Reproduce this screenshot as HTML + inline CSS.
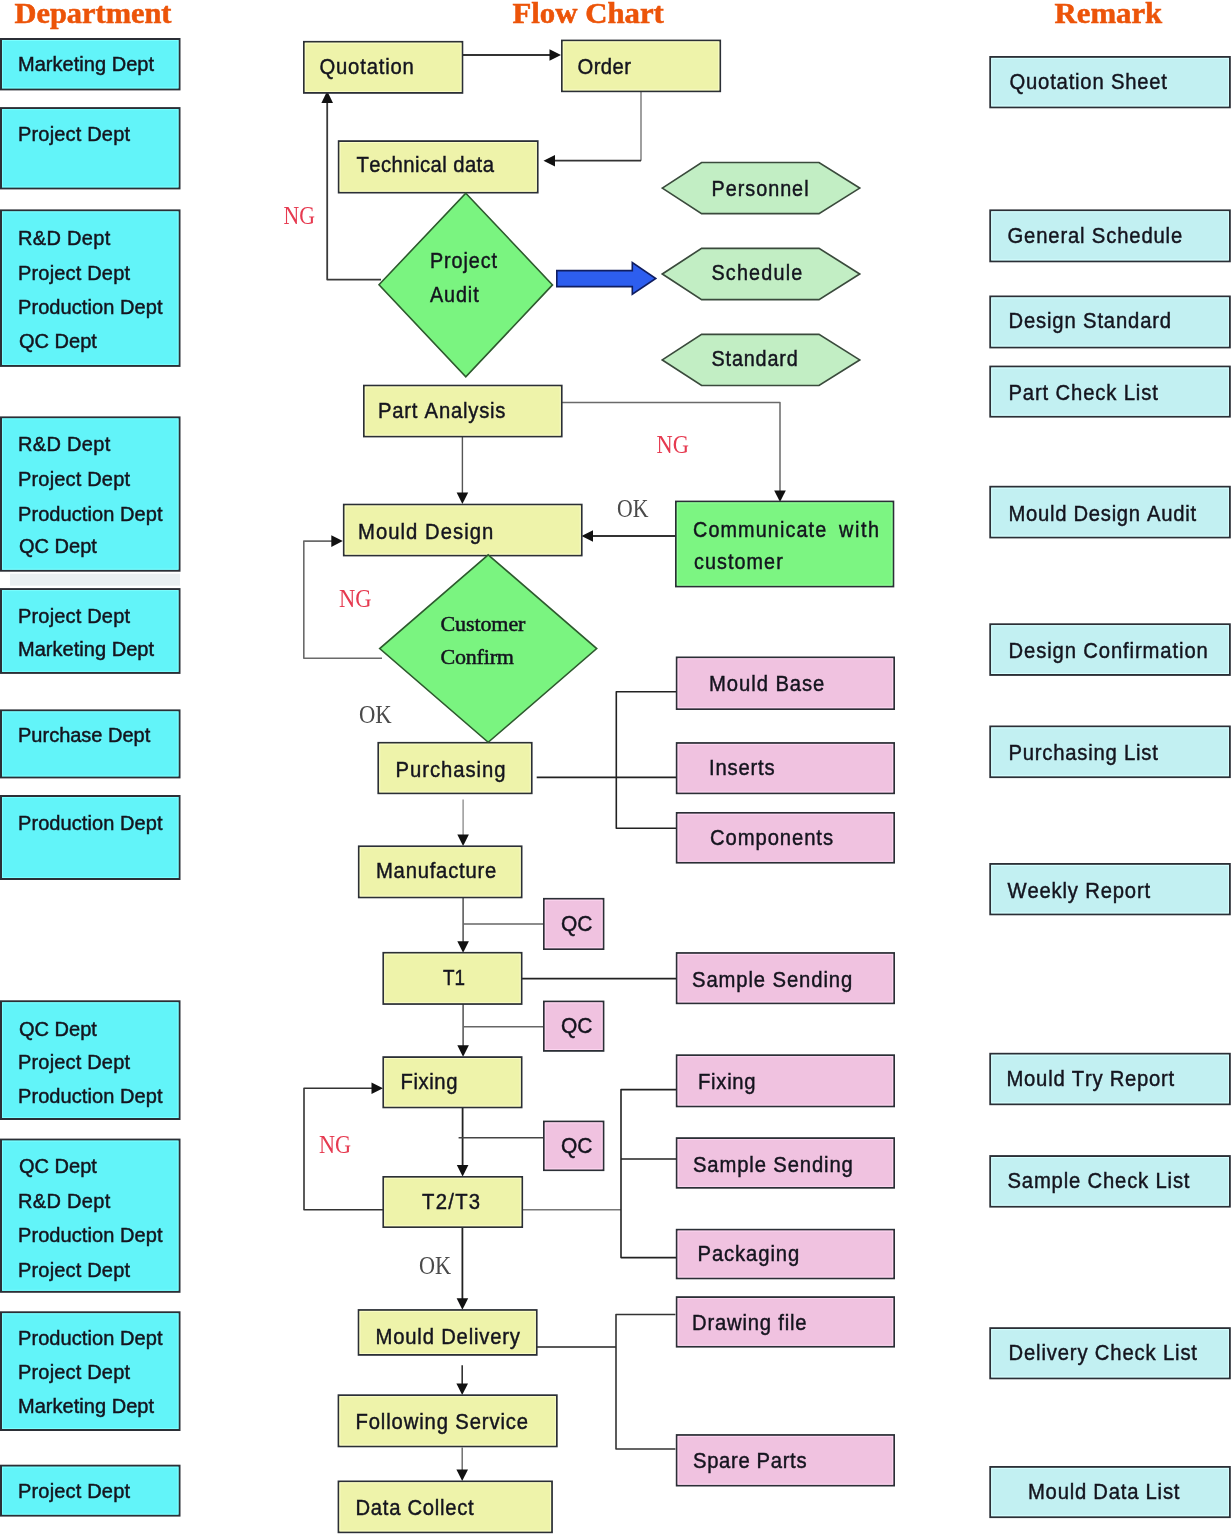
<!DOCTYPE html>
<html><head><meta charset="utf-8"><title>Mould Flow Chart</title>
<style>html,body{margin:0;padding:0;background:#fff;overflow:hidden;width:1232px;height:1534px;}svg{display:block;will-change:transform;}text{font-kerning:none;}</style>
</head><body>
<svg width="1232" height="1534" viewBox="0 0 1232 1534">
<path d="M462.7,55.0 L552.0,55.0" fill="none" stroke="#333333" stroke-width="2" stroke-linejoin="round"/>
<polygon points="561.0,55.0 549.5,49.2 549.5,60.8" fill="#111"/>
<path d="M641.0,91.6 L641.0,160.7" fill="none" stroke="#777" stroke-width="1.4" stroke-linejoin="round"/>
<path d="M641.0,160.7 L552.0,160.7" fill="none" stroke="#333333" stroke-width="1.8" stroke-linejoin="round"/>
<polygon points="543.5,160.7 555.0,154.9 555.0,166.5" fill="#111"/>
<path d="M381.0,279.6 L327.2,279.6 L327.2,100.0" fill="none" stroke="#3a3a3a" stroke-width="1.8" stroke-linejoin="round"/>
<polygon points="327.2,91.0 321.4,103.0 333.0,103.0" fill="#111"/>
<path d="M462.4,436.8 L462.4,495.0" fill="none" stroke="#555" stroke-width="1.4" stroke-linejoin="round"/>
<polygon points="462.4,504.0 456.6,492.5 468.2,492.5" fill="#111"/>
<path d="M562.0,402.5 L780.0,402.5 L780.0,492.0" fill="none" stroke="#6a6a6a" stroke-width="1.5" stroke-linejoin="round"/>
<polygon points="780.0,502.0 774.2,490.5 785.8,490.5" fill="#111"/>
<path d="M675.8,536.0 L590.0,536.0" fill="none" stroke="#333333" stroke-width="1.8" stroke-linejoin="round"/>
<polygon points="581.5,536.0 593.0,530.2 593.0,541.8" fill="#111"/>
<path d="M382.0,658.2 L303.8,658.2 L303.8,541.1 L334.0,541.1" fill="none" stroke="#6a6a6a" stroke-width="1.6" stroke-linejoin="round"/>
<polygon points="342.8,541.1 331.3,535.3 331.3,546.9" fill="#111"/>
<path d="M536.7,777.4 L676.4,777.4" fill="none" stroke="#222" stroke-width="1.6" stroke-linejoin="round"/>
<path d="M676.4,691.8 L616.3,691.8 L616.3,828.3 L676.4,828.3" fill="none" stroke="#222" stroke-width="1.6" stroke-linejoin="round"/>
<path d="M463.1,799.6 L463.1,836.0" fill="none" stroke="#888" stroke-width="1.3" stroke-linejoin="round"/>
<polygon points="463.1,846.0 457.3,834.5 468.9,834.5" fill="#111"/>
<path d="M463.1,897.7 L463.1,943.0" fill="none" stroke="#444" stroke-width="1.4" stroke-linejoin="round"/>
<polygon points="463.1,952.7 457.3,941.2 468.9,941.2" fill="#111"/>
<path d="M463.1,924.0 L543.6,924.0" fill="none" stroke="#666" stroke-width="1.4" stroke-linejoin="round"/>
<path d="M518.0,978.6 L676.4,978.6" fill="none" stroke="#222" stroke-width="1.8" stroke-linejoin="round"/>
<path d="M463.1,1003.6 L463.1,1047.0" fill="none" stroke="#444" stroke-width="1.4" stroke-linejoin="round"/>
<polygon points="463.1,1056.8 457.3,1045.3 468.9,1045.3" fill="#111"/>
<path d="M463.1,1026.7 L543.6,1026.7" fill="none" stroke="#666" stroke-width="1.4" stroke-linejoin="round"/>
<path d="M462.6,1107.7 L462.6,1167.0" fill="none" stroke="#222" stroke-width="1.8" stroke-linejoin="round"/>
<polygon points="462.6,1176.6 456.8,1165.1 468.4,1165.1" fill="#111"/>
<path d="M458.6,1137.8 L543.6,1137.8" fill="none" stroke="#444" stroke-width="1.6" stroke-linejoin="round"/>
<path d="M383.0,1209.8 L304.0,1209.8 L304.0,1088.2 L374.0,1088.2" fill="none" stroke="#333" stroke-width="1.6" stroke-linejoin="round"/>
<polygon points="383.0,1088.2 371.5,1082.4 371.5,1094.0" fill="#111"/>
<path d="M522.5,1209.8 L621.0,1209.8" fill="none" stroke="#777" stroke-width="1.4" stroke-linejoin="round"/>
<path d="M676.4,1089.6 L621.0,1089.6 L621.0,1257.6 L676.4,1257.6" fill="none" stroke="#222" stroke-width="1.6" stroke-linejoin="round"/>
<path d="M621.0,1159.0 L676.4,1159.0" fill="none" stroke="#222" stroke-width="1.6" stroke-linejoin="round"/>
<path d="M462.4,1227.4 L462.4,1300.0" fill="none" stroke="#222" stroke-width="1.8" stroke-linejoin="round"/>
<polygon points="462.4,1309.7 456.6,1298.2 468.2,1298.2" fill="#111"/>
<path d="M537.0,1347.0 L616.0,1347.0" fill="none" stroke="#222" stroke-width="1.6" stroke-linejoin="round"/>
<path d="M675.4,1314.5 L616.0,1314.5 L616.0,1449.0 L675.4,1449.0" fill="none" stroke="#333" stroke-width="1.6" stroke-linejoin="round"/>
<path d="M462.2,1365.2 L462.2,1385.0" fill="none" stroke="#333" stroke-width="1.6" stroke-linejoin="round"/>
<polygon points="462.2,1394.9 456.4,1383.4 468.0,1383.4" fill="#111"/>
<path d="M462.2,1447.6 L462.2,1471.0" fill="none" stroke="#666" stroke-width="1.4" stroke-linejoin="round"/>
<polygon points="462.2,1481.0 456.4,1469.5 468.0,1469.5" fill="#111"/>
<rect x="10" y="573.7" width="170" height="12" fill="#e9eff1"/>
<rect x="1.00" y="39.00" width="178.50" height="50.40" fill="#62f4f9" stroke="#2b2f36" stroke-width="2"/><rect x="2.50" y="40.50" width="175.50" height="47.40" fill="none" stroke="#7cffff" stroke-width="1"/>
<rect x="1.00" y="108.10" width="178.50" height="80.30" fill="#62f4f9" stroke="#2b2f36" stroke-width="2"/><rect x="2.50" y="109.60" width="175.50" height="77.30" fill="none" stroke="#7cffff" stroke-width="1"/>
<rect x="1.00" y="210.40" width="178.50" height="155.50" fill="#62f4f9" stroke="#2b2f36" stroke-width="2"/><rect x="2.50" y="211.90" width="175.50" height="152.50" fill="none" stroke="#7cffff" stroke-width="1"/>
<rect x="1.00" y="417.40" width="178.50" height="153.30" fill="#62f4f9" stroke="#2b2f36" stroke-width="2"/><rect x="2.50" y="418.90" width="175.50" height="150.30" fill="none" stroke="#7cffff" stroke-width="1"/>
<rect x="1.00" y="589.10" width="178.50" height="83.80" fill="#62f4f9" stroke="#2b2f36" stroke-width="2"/><rect x="2.50" y="590.60" width="175.50" height="80.80" fill="none" stroke="#7cffff" stroke-width="1"/>
<rect x="1.00" y="710.40" width="178.50" height="67.00" fill="#62f4f9" stroke="#2b2f36" stroke-width="2"/><rect x="2.50" y="711.90" width="175.50" height="64.00" fill="none" stroke="#7cffff" stroke-width="1"/>
<rect x="1.00" y="796.00" width="178.50" height="83.00" fill="#62f4f9" stroke="#2b2f36" stroke-width="2"/><rect x="2.50" y="797.50" width="175.50" height="80.00" fill="none" stroke="#7cffff" stroke-width="1"/>
<rect x="1.00" y="1001.30" width="178.50" height="117.70" fill="#62f4f9" stroke="#2b2f36" stroke-width="2"/><rect x="2.50" y="1002.80" width="175.50" height="114.70" fill="none" stroke="#7cffff" stroke-width="1"/>
<rect x="1.00" y="1139.60" width="178.50" height="152.20" fill="#62f4f9" stroke="#2b2f36" stroke-width="2"/><rect x="2.50" y="1141.10" width="175.50" height="149.20" fill="none" stroke="#7cffff" stroke-width="1"/>
<rect x="1.00" y="1312.30" width="178.50" height="117.70" fill="#62f4f9" stroke="#2b2f36" stroke-width="2"/><rect x="2.50" y="1313.80" width="175.50" height="114.70" fill="none" stroke="#7cffff" stroke-width="1"/>
<rect x="1.00" y="1465.70" width="178.50" height="49.90" fill="#62f4f9" stroke="#2b2f36" stroke-width="2"/><rect x="2.50" y="1467.20" width="175.50" height="46.90" fill="none" stroke="#7cffff" stroke-width="1"/>
<rect x="990.25" y="56.95" width="239.60" height="50.40" fill="#c2f0f2" stroke="#2b2f36" stroke-width="1.9"/><rect x="991.70" y="58.40" width="236.70" height="47.50" fill="none" stroke="#d6ffff" stroke-width="1"/>
<rect x="990.25" y="210.35" width="239.60" height="51.00" fill="#c2f0f2" stroke="#2b2f36" stroke-width="1.9"/><rect x="991.70" y="211.80" width="236.70" height="48.10" fill="none" stroke="#d6ffff" stroke-width="1"/>
<rect x="990.25" y="296.45" width="239.60" height="51.00" fill="#c2f0f2" stroke="#2b2f36" stroke-width="1.9"/><rect x="991.70" y="297.90" width="236.70" height="48.10" fill="none" stroke="#d6ffff" stroke-width="1"/>
<rect x="990.25" y="366.55" width="239.60" height="50.10" fill="#c2f0f2" stroke="#2b2f36" stroke-width="1.9"/><rect x="991.70" y="368.00" width="236.70" height="47.20" fill="none" stroke="#d6ffff" stroke-width="1"/>
<rect x="990.25" y="486.75" width="239.60" height="50.70" fill="#c2f0f2" stroke="#2b2f36" stroke-width="1.9"/><rect x="991.70" y="488.20" width="236.70" height="47.80" fill="none" stroke="#d6ffff" stroke-width="1"/>
<rect x="990.25" y="624.25" width="239.60" height="50.70" fill="#c2f0f2" stroke="#2b2f36" stroke-width="1.9"/><rect x="991.70" y="625.70" width="236.70" height="47.80" fill="none" stroke="#d6ffff" stroke-width="1"/>
<rect x="990.25" y="726.45" width="239.60" height="50.70" fill="#c2f0f2" stroke="#2b2f36" stroke-width="1.9"/><rect x="991.70" y="727.90" width="236.70" height="47.80" fill="none" stroke="#d6ffff" stroke-width="1"/>
<rect x="990.25" y="863.95" width="239.60" height="50.40" fill="#c2f0f2" stroke="#2b2f36" stroke-width="1.9"/><rect x="991.70" y="865.40" width="236.70" height="47.50" fill="none" stroke="#d6ffff" stroke-width="1"/>
<rect x="990.25" y="1053.75" width="239.60" height="50.50" fill="#c2f0f2" stroke="#2b2f36" stroke-width="1.9"/><rect x="991.70" y="1055.20" width="236.70" height="47.60" fill="none" stroke="#d6ffff" stroke-width="1"/>
<rect x="990.25" y="1156.05" width="239.60" height="50.60" fill="#c2f0f2" stroke="#2b2f36" stroke-width="1.9"/><rect x="991.70" y="1157.50" width="236.70" height="47.70" fill="none" stroke="#d6ffff" stroke-width="1"/>
<rect x="990.25" y="1328.15" width="239.60" height="50.20" fill="#c2f0f2" stroke="#2b2f36" stroke-width="1.9"/><rect x="991.70" y="1329.60" width="236.70" height="47.30" fill="none" stroke="#d6ffff" stroke-width="1"/>
<rect x="990.25" y="1466.95" width="239.60" height="50.20" fill="#c2f0f2" stroke="#2b2f36" stroke-width="1.9"/><rect x="991.70" y="1468.40" width="236.70" height="47.30" fill="none" stroke="#d6ffff" stroke-width="1"/>
<rect x="303.90" y="41.80" width="158.50" height="51.10" fill="#eef3aa" stroke="#2b2f36" stroke-width="1.8"/><rect x="305.30" y="43.20" width="155.70" height="48.30" fill="none" stroke="#fafcc6" stroke-width="1"/>
<rect x="561.90" y="40.50" width="158.30" height="50.80" fill="#eef3aa" stroke="#2b2f36" stroke-width="1.8"/><rect x="563.30" y="41.90" width="155.50" height="48.00" fill="none" stroke="#fafcc6" stroke-width="1"/>
<rect x="338.70" y="141.10" width="199.00" height="51.50" fill="#eef3aa" stroke="#2b2f36" stroke-width="1.8"/><rect x="340.10" y="142.50" width="196.20" height="48.70" fill="none" stroke="#fafcc6" stroke-width="1"/>
<rect x="363.90" y="385.60" width="197.80" height="50.90" fill="#eef3aa" stroke="#2b2f36" stroke-width="1.8"/><rect x="365.30" y="387.00" width="195.00" height="48.10" fill="none" stroke="#fafcc6" stroke-width="1"/>
<rect x="343.80" y="504.60" width="237.90" height="50.90" fill="#eef3aa" stroke="#2b2f36" stroke-width="1.8"/><rect x="345.20" y="506.00" width="235.10" height="48.10" fill="none" stroke="#fafcc6" stroke-width="1"/>
<rect x="378.30" y="742.80" width="153.40" height="50.50" fill="#eef3aa" stroke="#2b2f36" stroke-width="1.8"/><rect x="379.70" y="744.20" width="150.60" height="47.70" fill="none" stroke="#fafcc6" stroke-width="1"/>
<rect x="358.80" y="846.30" width="162.80" height="51.10" fill="#eef3aa" stroke="#2b2f36" stroke-width="1.8"/><rect x="360.20" y="847.70" width="160.00" height="48.30" fill="none" stroke="#fafcc6" stroke-width="1"/>
<rect x="383.30" y="952.80" width="138.30" height="51.20" fill="#eef3aa" stroke="#2b2f36" stroke-width="1.8"/><rect x="384.70" y="954.20" width="135.50" height="48.40" fill="none" stroke="#fafcc6" stroke-width="1"/>
<rect x="383.30" y="1057.10" width="138.30" height="50.30" fill="#eef3aa" stroke="#2b2f36" stroke-width="1.8"/><rect x="384.70" y="1058.50" width="135.50" height="47.50" fill="none" stroke="#fafcc6" stroke-width="1"/>
<rect x="383.30" y="1176.90" width="138.90" height="50.20" fill="#eef3aa" stroke="#2b2f36" stroke-width="1.8"/><rect x="384.70" y="1178.30" width="136.10" height="47.40" fill="none" stroke="#fafcc6" stroke-width="1"/>
<rect x="358.60" y="1310.00" width="178.10" height="44.90" fill="#eef3aa" stroke="#2b2f36" stroke-width="1.8"/><rect x="360.00" y="1311.40" width="175.30" height="42.10" fill="none" stroke="#fafcc6" stroke-width="1"/>
<rect x="338.50" y="1395.20" width="218.30" height="51.20" fill="#eef3aa" stroke="#2b2f36" stroke-width="1.8"/><rect x="339.90" y="1396.60" width="215.50" height="48.40" fill="none" stroke="#fafcc6" stroke-width="1"/>
<rect x="338.50" y="1481.40" width="213.50" height="50.90" fill="#eef3aa" stroke="#2b2f36" stroke-width="1.8"/><rect x="339.90" y="1482.80" width="210.70" height="48.10" fill="none" stroke="#fafcc6" stroke-width="1"/>
<rect x="676.70" y="657.40" width="217.40" height="51.70" fill="#f0c2e0" stroke="#2b2f36" stroke-width="1.8"/><rect x="678.10" y="658.80" width="214.60" height="48.90" fill="none" stroke="#fcd6f0" stroke-width="1"/>
<rect x="676.70" y="743.00" width="217.40" height="50.30" fill="#f0c2e0" stroke="#2b2f36" stroke-width="1.8"/><rect x="678.10" y="744.40" width="214.60" height="47.50" fill="none" stroke="#fcd6f0" stroke-width="1"/>
<rect x="676.70" y="812.90" width="217.40" height="49.80" fill="#f0c2e0" stroke="#2b2f36" stroke-width="1.8"/><rect x="678.10" y="814.30" width="214.60" height="47.00" fill="none" stroke="#fcd6f0" stroke-width="1"/>
<rect x="676.70" y="953.00" width="217.40" height="50.30" fill="#f0c2e0" stroke="#2b2f36" stroke-width="1.8"/><rect x="678.10" y="954.40" width="214.60" height="47.50" fill="none" stroke="#fcd6f0" stroke-width="1"/>
<rect x="676.70" y="1055.20" width="217.40" height="51.20" fill="#f0c2e0" stroke="#2b2f36" stroke-width="1.8"/><rect x="678.10" y="1056.60" width="214.60" height="48.40" fill="none" stroke="#fcd6f0" stroke-width="1"/>
<rect x="676.70" y="1138.10" width="217.40" height="49.70" fill="#f0c2e0" stroke="#2b2f36" stroke-width="1.8"/><rect x="678.10" y="1139.50" width="214.60" height="46.90" fill="none" stroke="#fcd6f0" stroke-width="1"/>
<rect x="676.70" y="1229.70" width="217.40" height="48.70" fill="#f0c2e0" stroke="#2b2f36" stroke-width="1.8"/><rect x="678.10" y="1231.10" width="214.60" height="45.90" fill="none" stroke="#fcd6f0" stroke-width="1"/>
<rect x="676.70" y="1297.10" width="217.40" height="49.60" fill="#f0c2e0" stroke="#2b2f36" stroke-width="1.8"/><rect x="678.10" y="1298.50" width="214.60" height="46.80" fill="none" stroke="#fcd6f0" stroke-width="1"/>
<rect x="676.70" y="1435.00" width="217.40" height="50.60" fill="#f0c2e0" stroke="#2b2f36" stroke-width="1.8"/><rect x="678.10" y="1436.40" width="214.60" height="47.80" fill="none" stroke="#fcd6f0" stroke-width="1"/>
<rect x="543.90" y="898.80" width="59.60" height="50.30" fill="#f0c2e0" stroke="#2b2f36" stroke-width="1.8"/><rect x="545.30" y="900.20" width="56.80" height="47.50" fill="none" stroke="#fcd6f0" stroke-width="1"/>
<rect x="543.90" y="1001.50" width="59.60" height="49.40" fill="#f0c2e0" stroke="#2b2f36" stroke-width="1.8"/><rect x="545.30" y="1002.90" width="56.80" height="46.60" fill="none" stroke="#fcd6f0" stroke-width="1"/>
<rect x="543.90" y="1121.50" width="59.60" height="48.70" fill="#f0c2e0" stroke="#2b2f36" stroke-width="1.8"/><rect x="545.30" y="1122.90" width="56.80" height="45.90" fill="none" stroke="#fcd6f0" stroke-width="1"/>
<rect x="675.90" y="501.50" width="217.50" height="85.00" fill="#7cf582" stroke="#2b2f36" stroke-width="1.8"/><rect x="677.30" y="502.90" width="214.70" height="82.20" fill="none" stroke="#92ff9a" stroke-width="1"/>
<polygon points="662.3,188.1 701.6,162.5 819.0,162.5 859.7,188.1 819.0,213.7 701.6,213.7" fill="#c2eec4" stroke="#3a4a3c" stroke-width="1.7"/>
<polygon points="662.3,274.0 701.6,248.3 819.0,248.3 859.7,274.0 819.0,299.6 701.6,299.6" fill="#c2eec4" stroke="#3a4a3c" stroke-width="1.7"/>
<polygon points="662.3,359.9 701.6,334.4 819.0,334.4 859.7,359.9 819.0,385.5 701.6,385.5" fill="#c2eec4" stroke="#3a4a3c" stroke-width="1.7"/>
<polygon points="465.8,193.2 552.5,284.9 465.8,376.9 379.0,284.7" fill="#7af480" stroke="#2e5a2e" stroke-width="1.6"/>
<polygon points="488.2,554.8 596.7,648.6 488.2,742.3 379.7,648.6" fill="#7af480" stroke="#2e5a2e" stroke-width="1.6"/>
<polygon points="556.8,270.6 632.3,270.6 632.3,262.6 655.8,278.5 632.3,294.2 632.3,286.6 556.8,286.6" fill="#2d5eef" stroke="#101e60" stroke-width="1.6" stroke-linejoin="miter"/>
<text x="18.00" y="71.00" font-family='"Liberation Sans", sans-serif' font-size="20" stroke="#14141e" stroke-width="0.45" fill="#14141e" textLength="136.05" lengthAdjust="spacing">Marketing Dept</text>
<text x="18.00" y="140.90" font-family='"Liberation Sans", sans-serif' font-size="20" stroke="#14141e" stroke-width="0.45" fill="#14141e" textLength="112.02" lengthAdjust="spacing">Project Dept</text>
<text x="18.00" y="245.00" font-family='"Liberation Sans", sans-serif' font-size="20" stroke="#14141e" stroke-width="0.45" fill="#14141e" textLength="92.32" lengthAdjust="spacing">R&amp;D Dept</text>
<text x="18.00" y="279.70" font-family='"Liberation Sans", sans-serif' font-size="20" stroke="#14141e" stroke-width="0.45" fill="#14141e" textLength="112.02" lengthAdjust="spacing">Project Dept</text>
<text x="18.00" y="313.90" font-family='"Liberation Sans", sans-serif' font-size="20" stroke="#14141e" stroke-width="0.45" fill="#14141e" textLength="144.49" lengthAdjust="spacing">Production Dept</text>
<text x="19.00" y="348.00" font-family='"Liberation Sans", sans-serif' font-size="20" stroke="#14141e" stroke-width="0.45" fill="#14141e" textLength="77.81" lengthAdjust="spacing">QC Dept</text>
<text x="18.00" y="451.00" font-family='"Liberation Sans", sans-serif' font-size="20" stroke="#14141e" stroke-width="0.45" fill="#14141e" textLength="92.32" lengthAdjust="spacing">R&amp;D Dept</text>
<text x="18.00" y="485.70" font-family='"Liberation Sans", sans-serif' font-size="20" stroke="#14141e" stroke-width="0.45" fill="#14141e" textLength="112.02" lengthAdjust="spacing">Project Dept</text>
<text x="18.00" y="520.90" font-family='"Liberation Sans", sans-serif' font-size="20" stroke="#14141e" stroke-width="0.45" fill="#14141e" textLength="144.49" lengthAdjust="spacing">Production Dept</text>
<text x="19.00" y="553.00" font-family='"Liberation Sans", sans-serif' font-size="20" stroke="#14141e" stroke-width="0.45" fill="#14141e" textLength="77.81" lengthAdjust="spacing">QC Dept</text>
<text x="18.00" y="622.60" font-family='"Liberation Sans", sans-serif' font-size="20" stroke="#14141e" stroke-width="0.45" fill="#14141e" textLength="112.02" lengthAdjust="spacing">Project Dept</text>
<text x="18.00" y="656.00" font-family='"Liberation Sans", sans-serif' font-size="20" stroke="#14141e" stroke-width="0.45" fill="#14141e" textLength="136.05" lengthAdjust="spacing">Marketing Dept</text>
<text x="18.00" y="742.00" font-family='"Liberation Sans", sans-serif' font-size="20" stroke="#14141e" stroke-width="0.45" fill="#14141e" textLength="132.30" lengthAdjust="spacing">Purchase Dept</text>
<text x="18.00" y="829.50" font-family='"Liberation Sans", sans-serif' font-size="20" stroke="#14141e" stroke-width="0.45" fill="#14141e" textLength="144.49" lengthAdjust="spacing">Production Dept</text>
<text x="19.00" y="1035.60" font-family='"Liberation Sans", sans-serif' font-size="20" stroke="#14141e" stroke-width="0.45" fill="#14141e" textLength="77.81" lengthAdjust="spacing">QC Dept</text>
<text x="18.00" y="1068.70" font-family='"Liberation Sans", sans-serif' font-size="20" stroke="#14141e" stroke-width="0.45" fill="#14141e" textLength="112.02" lengthAdjust="spacing">Project Dept</text>
<text x="18.00" y="1103.40" font-family='"Liberation Sans", sans-serif' font-size="20" stroke="#14141e" stroke-width="0.45" fill="#14141e" textLength="144.49" lengthAdjust="spacing">Production Dept</text>
<text x="19.00" y="1173.10" font-family='"Liberation Sans", sans-serif' font-size="20" stroke="#14141e" stroke-width="0.45" fill="#14141e" textLength="77.81" lengthAdjust="spacing">QC Dept</text>
<text x="18.00" y="1207.80" font-family='"Liberation Sans", sans-serif' font-size="20" stroke="#14141e" stroke-width="0.45" fill="#14141e" textLength="92.32" lengthAdjust="spacing">R&amp;D Dept</text>
<text x="18.00" y="1242.30" font-family='"Liberation Sans", sans-serif' font-size="20" stroke="#14141e" stroke-width="0.45" fill="#14141e" textLength="144.49" lengthAdjust="spacing">Production Dept</text>
<text x="18.00" y="1277.00" font-family='"Liberation Sans", sans-serif' font-size="20" stroke="#14141e" stroke-width="0.45" fill="#14141e" textLength="112.02" lengthAdjust="spacing">Project Dept</text>
<text x="18.00" y="1344.80" font-family='"Liberation Sans", sans-serif' font-size="20" stroke="#14141e" stroke-width="0.45" fill="#14141e" textLength="144.49" lengthAdjust="spacing">Production Dept</text>
<text x="18.00" y="1379.20" font-family='"Liberation Sans", sans-serif' font-size="20" stroke="#14141e" stroke-width="0.45" fill="#14141e" textLength="112.02" lengthAdjust="spacing">Project Dept</text>
<text x="18.00" y="1412.60" font-family='"Liberation Sans", sans-serif' font-size="20" stroke="#14141e" stroke-width="0.45" fill="#14141e" textLength="136.05" lengthAdjust="spacing">Marketing Dept</text>
<text x="18.00" y="1497.90" font-family='"Liberation Sans", sans-serif' font-size="20" stroke="#14141e" stroke-width="0.45" fill="#14141e" textLength="112.02" lengthAdjust="spacing">Project Dept</text>
<text transform="translate(1009.50,89.20) scale(0.9,1)" x="0" y="0" font-family='"Liberation Sans", sans-serif' font-size="22.5" stroke="#14141e" stroke-width="0.45" fill="#14141e" textLength="175.01" lengthAdjust="spacing">Quotation Sheet</text>
<text transform="translate(1007.50,242.60) scale(0.9,1)" x="0" y="0" font-family='"Liberation Sans", sans-serif' font-size="22.5" stroke="#14141e" stroke-width="0.45" fill="#14141e" textLength="194.11" lengthAdjust="spacing">General Schedule</text>
<text transform="translate(1008.50,328.20) scale(0.9,1)" x="0" y="0" font-family='"Liberation Sans", sans-serif' font-size="22.5" stroke="#14141e" stroke-width="0.45" fill="#14141e" textLength="180.71" lengthAdjust="spacing">Design Standard</text>
<text transform="translate(1008.50,399.60) scale(0.9,1)" x="0" y="0" font-family='"Liberation Sans", sans-serif' font-size="22.5" stroke="#14141e" stroke-width="0.45" fill="#14141e" textLength="165.89" lengthAdjust="spacing">Part Check List</text>
<text transform="translate(1008.50,520.90) scale(0.9,1)" x="0" y="0" font-family='"Liberation Sans", sans-serif' font-size="22.5" stroke="#14141e" stroke-width="0.45" fill="#14141e" textLength="208.46" lengthAdjust="spacing">Mould Design Audit</text>
<text transform="translate(1008.50,658.40) scale(0.9,1)" x="0" y="0" font-family='"Liberation Sans", sans-serif' font-size="22.5" stroke="#14141e" stroke-width="0.45" fill="#14141e" textLength="221.44" lengthAdjust="spacing">Design Confirmation</text>
<text transform="translate(1008.50,760.00) scale(0.9,1)" x="0" y="0" font-family='"Liberation Sans", sans-serif' font-size="22.5" stroke="#14141e" stroke-width="0.45" fill="#14141e" textLength="165.98" lengthAdjust="spacing">Purchasing List</text>
<text transform="translate(1007.50,897.50) scale(0.9,1)" x="0" y="0" font-family='"Liberation Sans", sans-serif' font-size="22.5" stroke="#14141e" stroke-width="0.45" fill="#14141e" textLength="158.46" lengthAdjust="spacing">Weekly Report</text>
<text transform="translate(1006.50,1085.60) scale(0.9,1)" x="0" y="0" font-family='"Liberation Sans", sans-serif' font-size="22.5" stroke="#14141e" stroke-width="0.45" fill="#14141e" textLength="186.32" lengthAdjust="spacing">Mould Try Report</text>
<text transform="translate(1007.50,1188.30) scale(0.9,1)" x="0" y="0" font-family='"Liberation Sans", sans-serif' font-size="22.5" stroke="#14141e" stroke-width="0.45" fill="#14141e" textLength="202.22" lengthAdjust="spacing">Sample Check List</text>
<text transform="translate(1008.50,1359.70) scale(0.9,1)" x="0" y="0" font-family='"Liberation Sans", sans-serif' font-size="22.5" stroke="#14141e" stroke-width="0.45" fill="#14141e" textLength="209.45" lengthAdjust="spacing">Delivery Check List</text>
<text transform="translate(1028.00,1498.50) scale(0.9,1)" x="0" y="0" font-family='"Liberation Sans", sans-serif' font-size="22.5" stroke="#14141e" stroke-width="0.45" fill="#14141e" textLength="168.23" lengthAdjust="spacing">Mould Data List</text>
<text transform="translate(319.50,74.30) scale(0.9,1)" x="0" y="0" font-family='"Liberation Sans", sans-serif' font-size="22.5" stroke="#14141e" stroke-width="0.45" fill="#14141e" textLength="104.82" lengthAdjust="spacing">Quotation</text>
<text transform="translate(577.50,73.80) scale(0.9,1)" x="0" y="0" font-family='"Liberation Sans", sans-serif' font-size="22.5" stroke="#14141e" stroke-width="0.45" fill="#14141e" textLength="59.46" lengthAdjust="spacing">Order</text>
<text transform="translate(356.50,172.40) scale(0.9,1)" x="0" y="0" font-family='"Liberation Sans", sans-serif' font-size="22.5" stroke="#14141e" stroke-width="0.45" fill="#14141e" textLength="152.70" lengthAdjust="spacing">Technical data</text>
<text transform="translate(378.00,417.70) scale(0.9,1)" x="0" y="0" font-family='"Liberation Sans", sans-serif' font-size="22.5" stroke="#14141e" stroke-width="0.45" fill="#14141e" textLength="141.62" lengthAdjust="spacing">Part Analysis</text>
<text transform="translate(358.00,539.00) scale(0.9,1)" x="0" y="0" font-family='"Liberation Sans", sans-serif' font-size="22.5" stroke="#14141e" stroke-width="0.45" fill="#14141e" textLength="150.42" lengthAdjust="spacing">Mould Design</text>
<text transform="translate(395.50,776.50) scale(0.9,1)" x="0" y="0" font-family='"Liberation Sans", sans-serif' font-size="22.5" stroke="#14141e" stroke-width="0.45" fill="#14141e" textLength="122.20" lengthAdjust="spacing">Purchasing</text>
<text transform="translate(376.00,878.30) scale(0.9,1)" x="0" y="0" font-family='"Liberation Sans", sans-serif' font-size="22.5" stroke="#14141e" stroke-width="0.45" fill="#14141e" textLength="133.63" lengthAdjust="spacing">Manufacture</text>
<text transform="translate(443.00,984.50) scale(0.9,1)" x="0" y="0" font-family='"Liberation Sans", sans-serif' font-size="22.5" stroke="#14141e" stroke-width="0.45" fill="#14141e" textLength="24.43" lengthAdjust="spacingAndGlyphs">T1</text>
<text transform="translate(400.50,1089.20) scale(0.9,1)" x="0" y="0" font-family='"Liberation Sans", sans-serif' font-size="22.5" stroke="#14141e" stroke-width="0.45" fill="#14141e" textLength="63.22" lengthAdjust="spacing">Fixing</text>
<text transform="translate(422.00,1209.30) scale(0.9,1)" x="0" y="0" font-family='"Liberation Sans", sans-serif' font-size="22.5" stroke="#14141e" stroke-width="0.45" fill="#14141e" textLength="64.60" lengthAdjust="spacing">T2/T3</text>
<text transform="translate(375.50,1343.70) scale(0.9,1)" x="0" y="0" font-family='"Liberation Sans", sans-serif' font-size="22.5" stroke="#14141e" stroke-width="0.45" fill="#14141e" textLength="160.53" lengthAdjust="spacing">Mould Delivery</text>
<text transform="translate(355.50,1429.40) scale(0.9,1)" x="0" y="0" font-family='"Liberation Sans", sans-serif' font-size="22.5" stroke="#14141e" stroke-width="0.45" fill="#14141e" textLength="191.67" lengthAdjust="spacing">Following Service</text>
<text transform="translate(355.50,1514.70) scale(0.9,1)" x="0" y="0" font-family='"Liberation Sans", sans-serif' font-size="22.5" stroke="#14141e" stroke-width="0.45" fill="#14141e" textLength="131.28" lengthAdjust="spacing">Data Collect</text>
<text transform="translate(709.00,690.90) scale(0.9,1)" x="0" y="0" font-family='"Liberation Sans", sans-serif' font-size="22.5" stroke="#14141e" stroke-width="0.45" fill="#14141e" textLength="128.20" lengthAdjust="spacing">Mould Base</text>
<text transform="translate(709.00,775.10) scale(0.9,1)" x="0" y="0" font-family='"Liberation Sans", sans-serif' font-size="22.5" stroke="#14141e" stroke-width="0.45" fill="#14141e" textLength="72.97" lengthAdjust="spacing">Inserts</text>
<text transform="translate(710.00,845.00) scale(0.9,1)" x="0" y="0" font-family='"Liberation Sans", sans-serif' font-size="22.5" stroke="#14141e" stroke-width="0.45" fill="#14141e" textLength="136.71" lengthAdjust="spacing">Components</text>
<text transform="translate(692.00,987.40) scale(0.9,1)" x="0" y="0" font-family='"Liberation Sans", sans-serif' font-size="22.5" stroke="#14141e" stroke-width="0.45" fill="#14141e" textLength="178.04" lengthAdjust="spacing">Sample Sending</text>
<text transform="translate(698.00,1089.20) scale(0.9,1)" x="0" y="0" font-family='"Liberation Sans", sans-serif' font-size="22.5" stroke="#14141e" stroke-width="0.45" fill="#14141e" textLength="64.02" lengthAdjust="spacing">Fixing</text>
<text transform="translate(693.00,1171.50) scale(0.9,1)" x="0" y="0" font-family='"Liberation Sans", sans-serif' font-size="22.5" stroke="#14141e" stroke-width="0.45" fill="#14141e" textLength="177.56" lengthAdjust="spacing">Sample Sending</text>
<text transform="translate(697.50,1261.10) scale(0.9,1)" x="0" y="0" font-family='"Liberation Sans", sans-serif' font-size="22.5" stroke="#14141e" stroke-width="0.45" fill="#14141e" textLength="113.08" lengthAdjust="spacing">Packaging</text>
<text transform="translate(692.00,1330.30) scale(0.9,1)" x="0" y="0" font-family='"Liberation Sans", sans-serif' font-size="22.5" stroke="#14141e" stroke-width="0.45" fill="#14141e" textLength="127.24" lengthAdjust="spacing">Drawing file</text>
<text transform="translate(693.00,1467.70) scale(0.9,1)" x="0" y="0" font-family='"Liberation Sans", sans-serif' font-size="22.5" stroke="#14141e" stroke-width="0.45" fill="#14141e" textLength="126.14" lengthAdjust="spacing">Spare Parts</text>
<text transform="translate(561.00,930.90) scale(0.9,1)" x="0" y="0" font-family='"Liberation Sans", sans-serif' font-size="22.5" stroke="#14141e" stroke-width="0.45" fill="#14141e" textLength="34.95" lengthAdjust="spacingAndGlyphs">QC</text>
<text transform="translate(561.00,1032.70) scale(0.9,1)" x="0" y="0" font-family='"Liberation Sans", sans-serif' font-size="22.5" stroke="#14141e" stroke-width="0.45" fill="#14141e" textLength="34.95" lengthAdjust="spacingAndGlyphs">QC</text>
<text transform="translate(561.00,1152.90) scale(0.9,1)" x="0" y="0" font-family='"Liberation Sans", sans-serif' font-size="22.5" stroke="#14141e" stroke-width="0.45" fill="#14141e" textLength="34.95" lengthAdjust="spacingAndGlyphs">QC</text>
<text transform="translate(711.50,196.00) scale(0.9,1)" x="0" y="0" font-family='"Liberation Sans", sans-serif' font-size="22" stroke="#14141e" stroke-width="0.45" fill="#14141e" textLength="107.82" lengthAdjust="spacing">Personnel</text>
<text transform="translate(711.50,280.40) scale(0.9,1)" x="0" y="0" font-family='"Liberation Sans", sans-serif' font-size="22" stroke="#14141e" stroke-width="0.45" fill="#14141e" textLength="100.88" lengthAdjust="spacing">Schedule</text>
<text transform="translate(711.50,366.40) scale(0.9,1)" x="0" y="0" font-family='"Liberation Sans", sans-serif' font-size="22" stroke="#14141e" stroke-width="0.45" fill="#14141e" textLength="95.89" lengthAdjust="spacing">Standard</text>
<text x="283.50" y="223.60" font-family='"Liberation Serif", serif' font-size="24.5" fill="#e63a50" textLength="31.44" lengthAdjust="spacingAndGlyphs">NG</text>
<text x="656.50" y="452.60" font-family='"Liberation Serif", serif' font-size="24.5" fill="#e63a50" textLength="32.40" lengthAdjust="spacingAndGlyphs">NG</text>
<text x="617.00" y="516.90" font-family='"Liberation Serif", serif' font-size="24.5" fill="#4a4a4a" textLength="31.44" lengthAdjust="spacingAndGlyphs">OK</text>
<text x="339.00" y="607.00" font-family='"Liberation Serif", serif' font-size="24.5" fill="#e63a50" textLength="32.48" lengthAdjust="spacingAndGlyphs">NG</text>
<text x="359.00" y="723.00" font-family='"Liberation Serif", serif' font-size="24.5" fill="#4a4a4a" textLength="32.72" lengthAdjust="spacingAndGlyphs">OK</text>
<text x="319.00" y="1152.90" font-family='"Liberation Serif", serif' font-size="24.5" fill="#e63a50" textLength="32.07" lengthAdjust="spacingAndGlyphs">NG</text>
<text x="419.00" y="1273.70" font-family='"Liberation Serif", serif' font-size="24.5" fill="#4a4a4a" textLength="32.07" lengthAdjust="spacingAndGlyphs">OK</text>
<text x="14.50" y="23.00" font-family='"Liberation Serif", serif' font-size="28.5" font-weight="bold" stroke="#ec5409" stroke-width="0.5" fill="#ec5409" textLength="156.96" lengthAdjust="spacingAndGlyphs">Department</text>
<text x="512.50" y="23.00" font-family='"Liberation Serif", serif' font-size="28.5" font-weight="bold" stroke="#ec5409" stroke-width="0.5" fill="#ec5409" textLength="151.32" lengthAdjust="spacingAndGlyphs">Flow Chart</text>
<text x="1054.50" y="23.00" font-family='"Liberation Serif", serif' font-size="28.5" font-weight="bold" stroke="#ec5409" stroke-width="0.5" fill="#ec5409" textLength="107.70" lengthAdjust="spacingAndGlyphs">Remark</text>
<text transform="translate(430.00,268.30) scale(0.9,1)" x="0" y="0" font-family='"Liberation Sans", sans-serif' font-size="22" stroke="#14141e" stroke-width="0.45" fill="#14141e" textLength="74.44" lengthAdjust="spacing">Project</text>
<text transform="translate(430.00,301.80) scale(0.9,1)" x="0" y="0" font-family='"Liberation Sans", sans-serif' font-size="22" stroke="#14141e" stroke-width="0.45" fill="#14141e" textLength="54.04" lengthAdjust="spacing">Audit</text>
<text x="440.50" y="631.00" font-family='"Liberation Serif", serif' font-size="22" stroke="#14141e" stroke-width="0.5" fill="#14141e" textLength="84.87" lengthAdjust="spacing">Customer</text>
<text x="440.50" y="663.70" font-family='"Liberation Serif", serif' font-size="22" stroke="#14141e" stroke-width="0.5" fill="#14141e" textLength="73.38" lengthAdjust="spacing">Confirm</text>
<text transform="translate(693.00,536.60) scale(0.9,1)" x="0" y="0" font-family='"Liberation Sans", sans-serif' font-size="22" stroke="#14141e" stroke-width="0.45" fill="#14141e" textLength="147.94" lengthAdjust="spacing">Communicate</text>
<text transform="translate(839.00,536.60) scale(0.9,1)" x="0" y="0" font-family='"Liberation Sans", sans-serif' font-size="22" stroke="#14141e" stroke-width="0.45" fill="#14141e" textLength="44.46" lengthAdjust="spacing">with</text>
<text transform="translate(694.00,569.10) scale(0.9,1)" x="0" y="0" font-family='"Liberation Sans", sans-serif' font-size="22" stroke="#14141e" stroke-width="0.45" fill="#14141e" textLength="98.60" lengthAdjust="spacing">customer</text>
</svg>
</body></html>
